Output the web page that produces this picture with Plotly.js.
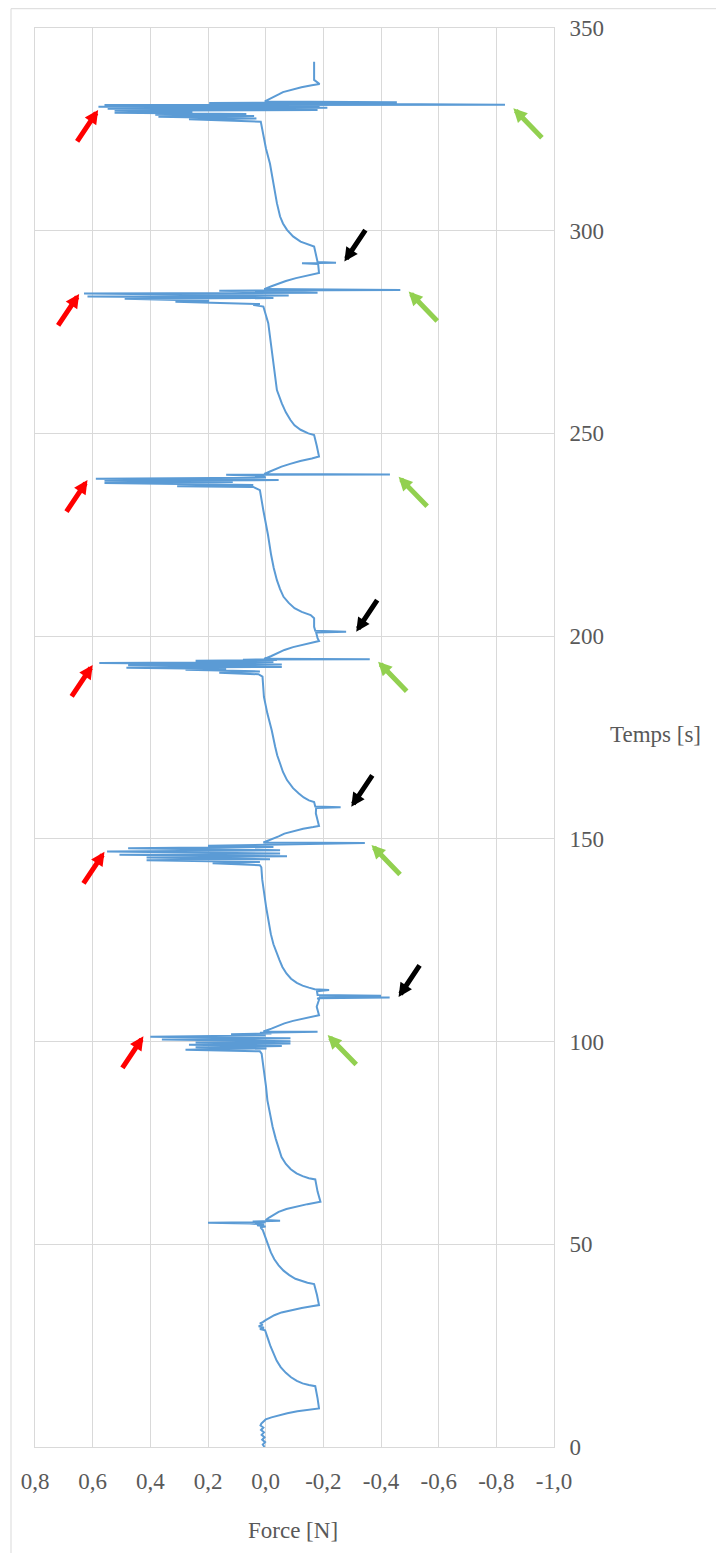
<!DOCTYPE html>
<html>
<head>
<meta charset="utf-8">
<script src="https://cdn.plot.ly/plotly-3.0.1.min.js"></script>
<style>
  html, body { margin: 0; padding: 0; background: #ffffff; }
  #chart { width: 716px; height: 1553px; }
</style>
</head>
<body>
<div id="chart"></div>
<script>
// Time [s] (y) and Force [N] (x) (one line per segment)
const timeS = [
  0.0,0.6,1.2,1.8,2.4,3.0,3.6,4.2,4.8,5.3,5.8,
  6.3,6.8,7.3,7.8,8.3,8.8,9.2,9.5,
  12.0,15.0,
  15.3,15.7,16.3,17.2,18.3,19.7,21.3,23.0,24.8,26.5,28.0,28.8,
  29.1,29.4,29.8,30.2,30.5,30.8,
  31.3,31.9,32.5,33.2,33.8,34.3,34.7,35.0,
  37.5,40.2,
  40.5,40.9,41.5,42.4,43.5,44.8,46.3,48.0,50.0,52.0,53.5,54.2,
  54.4,54.7,54.9,55.1,55.3,55.45,55.6,55.8,56.0,
  56.6,57.3,58.0,58.7,59.3,59.9,60.5,
  63.0,66.0,
  66.3,66.8,67.5,68.5,69.8,71.5,73.5,76.0,79.0,82.0,85.5,89.0,92.0,95.0,97.0,
  97.6,98.0,98.3,98.6,98.9,99.2,99.5,99.8,100.1,100.5,100.8,101.2,101.5,101.8,102.0,102.2,102.4,102.5,
  103.2,103.9,104.5,105.1,105.6,106.1,106.5,
  108.6,110.3,110.7,110.9,111.1,111.3,111.5,112.4,112.7,112.9,
  113.3,113.8,114.5,115.5,116.8,118.4,120.1,122.0,124.0,126.5,129.5,133.0,137.0,140.0,143.0,
  143.5,144.0,144.3,144.7,145.0,145.4,145.7,146.1,146.4,146.9,147.2,147.7,148.0,148.3,148.6,149.0,149.1,
  149.8,150.6,151.3,151.9,152.5,152.9,153.2,
  154.6,156.3,157.6,157.8,158.0,159.1,
  159.5,160.2,161.2,162.5,164.5,166.5,168.6,170.6,172.7,176.8,180.9,185.0,190.0,
  190.6,191.0,191.3,191.7,191.9,192.2,192.4,192.8,193.0,193.4,193.6,193.9,194.1,194.2,194.3,194.4,
  195.1,195.9,196.6,197.3,197.9,198.4,198.8,
  199.5,200.7,200.9,201.1,201.3,202.3,204.4,205.2,
  206.0,206.9,208.2,209.7,211.6,213.8,216.8,220.0,225.0,231.0,236.0,
  236.8,237.0,237.3,237.8,238.0,238.3,238.5,238.8,239.1,239.5,239.8,239.9,240.0,
  240.6,241.2,241.8,242.5,243.2,243.8,244.3,
  247.0,249.6,
  250.0,250.9,252.0,253.3,255.2,257.4,260.7,264.5,268.9,273.0,277.2,281.3,
  281.7,281.9,282.5,282.7,283.2,283.4,283.8,284.0,284.5,284.7,285.2,285.4,285.6,
  286.3,287.0,287.6,288.3,288.9,289.3,289.6,
  291.8,292.0,292.1,292.3,296.1,
  296.6,297.3,298.6,300.2,301.8,303.5,306.8,311.7,316.5,320.3,324.0,326.9,
  327.5,327.7,328.1,328.3,328.6,328.8,329.1,329.3,329.6,329.8,330.1,330.3,330.6,330.8,331.0,331.1,331.5,331.7,331.9,
  332.8,333.6,334.2,334.8,335.4,335.9,336.2,
  337.2,341.7
];
const forceN = [
  0.004,0.01,0.002,0.012,0.004,0.014,0.006,0.016,0.008,0.018,0.015,
  0.008,0.0,-0.02,-0.045,-0.075,-0.11,-0.15,-0.185,
  -0.18,-0.172,
  -0.15,-0.128,-0.108,-0.088,-0.07,-0.052,-0.038,-0.027,-0.017,-0.009,-0.003,0.002,
  0.02,0.006,0.024,0.01,0.02,0.01,
  0.0,-0.015,-0.03,-0.055,-0.09,-0.125,-0.16,-0.185,
  -0.178,-0.168,
  -0.145,-0.125,-0.103,-0.082,-0.062,-0.045,-0.03,-0.018,-0.008,0.002,0.01,0.018,
  0.0,0.03,0.005,0.055,0.2,0.0,0.045,-0.05,0.0,
  -0.012,-0.028,-0.045,-0.072,-0.105,-0.145,-0.19,
  -0.18,-0.172,
  -0.15,-0.128,-0.107,-0.087,-0.07,-0.055,-0.045,-0.035,-0.024,-0.015,-0.006,-0.001,0.005,0.01,0.014,
  0.02,0.278,-0.003,0.243,-0.056,0.266,-0.086,0.243,-0.086,0.36,-0.086,0.40,0.0,0.12,-0.02,0.02,-0.18,0.008,
  -0.02,-0.045,-0.065,-0.095,-0.13,-0.165,-0.185,
  -0.177,-0.185,-0.18,-0.43,-0.185,-0.40,-0.18,-0.178,-0.22,-0.17,
  -0.15,-0.128,-0.108,-0.088,-0.072,-0.058,-0.048,-0.038,-0.027,-0.018,-0.01,-0.002,0.006,0.012,0.015,
  0.02,0.184,0.02,0.413,-0.015,0.413,-0.074,0.507,-0.05,0.55,-0.05,0.477,-0.027,0.2,0.0,-0.344,0.008,
  -0.02,-0.045,-0.065,-0.095,-0.13,-0.165,-0.185,
  -0.18,-0.174,-0.175,-0.26,-0.172,-0.168,
  -0.15,-0.132,-0.115,-0.095,-0.074,-0.06,-0.05,-0.04,-0.033,-0.021,-0.006,0.006,0.011,
  0.025,0.161,0.02,0.278,0.137,0.483,-0.056,0.477,-0.056,0.577,-0.027,0.243,-0.039,0.079,-0.361,0.005,
  -0.02,-0.045,-0.065,-0.095,-0.13,-0.165,-0.185,
  -0.18,-0.174,-0.175,-0.279,-0.172,-0.168,-0.168,-0.156,
  -0.125,-0.1,-0.08,-0.062,-0.05,-0.039,-0.028,-0.019,-0.008,0.008,0.02,
  0.043,0.307,0.043,0.559,0.114,0.559,-0.045,0.589,0.0,0.01,0.137,-0.431,0.005,
  -0.015,-0.033,-0.055,-0.085,-0.12,-0.16,-0.185,
  -0.177,-0.168,
  -0.148,-0.121,-0.1,-0.086,-0.07,-0.056,-0.039,-0.032,-0.025,-0.017,-0.009,0.008,
  0.043,0.02,0.313,0.196,0.489,-0.027,0.618,-0.08,0.63,-0.18,0.161,-0.467,0.005,
  -0.02,-0.045,-0.07,-0.105,-0.14,-0.168,-0.185,
  -0.182,-0.126,-0.244,-0.18,-0.168,
  -0.145,-0.121,-0.095,-0.074,-0.06,-0.05,-0.039,-0.027,-0.015,-0.001,0.008,0.017,
  0.266,0.032,0.372,0.04,0.383,0.067,0.524,0.254,0.524,-0.18,0.548,-0.214,0.58,-0.187,0.559,-0.83,0.196,-0.455,0.003,
  -0.025,-0.045,-0.06,-0.09,-0.124,-0.16,-0.187,
  -0.168,-0.168
];

const xTickVals = [0.8, 0.6, 0.4, 0.2, 0.0, -0.2, -0.4, -0.6, -0.8, -1.0];
const xTickText = ['0,8','0,6','0,4','0,2','0,0','-0,2','-0,4','-0,6','-0,8','-1,0'];
const yTickVals = [0, 50, 100, 150, 200, 250, 300, 350];
const yTickText = ['0','50','100','150','200','250','300','350'];

// arrow markers: [force, time] of the tip
const redTips   = [[0.424,101.3],[0.559,146.8],[0.600,192.9],[0.618,238.5],[0.647,284.4],[0.581,329.8]];
const greenTips = [[-0.215,101.6],[-0.367,148.5],[-0.390,193.7],[-0.461,239.3],[-0.496,285.0],[-0.859,330.2]];
const blackTips = [[-0.461,111.0],[-0.297,157.9],[-0.314,201.1],[-0.273,292.4]];

const gridCol = '#D9D9D9';
const txtCol = '#595959';
const fontFam = '"Liberation Serif", "Times New Roman", serif';

const annotations = [];
function arrow(tip, color, ax, ay) {
  annotations.push({
    x: tip[0], y: tip[1], xref: 'x', yref: 'y',
    ax: ax, ay: ay, axref: 'pixel', ayref: 'pixel',
    showarrow: true, arrowhead: 2, arrowsize: 0.55, arrowwidth: 5,
    arrowcolor: color, text: ''
  });
}
redTips.forEach(t => arrow(t, '#FF0000', -22, 33));
greenTips.forEach(t => arrow(t, '#92D050', 30, 31));
blackTips.forEach(t => arrow(t, '#000000', 22, -33));

annotations.push({
  text: 'Force [N]', xref: 'paper', yref: 'paper',
  x: (293 - 35) / 519, y: (1446.7 - 1530) / 1418.4,
  xanchor: 'center', yanchor: 'middle', showarrow: false,
  font: { family: fontFam, size: 23, color: txtCol }
});
annotations.push({
  text: 'Temps [s]', xref: 'paper', yref: 'paper',
  x: (655 - 35) / 519, y: (1446.7 - 735) / 1418.4,
  xanchor: 'center', yanchor: 'middle', showarrow: false,
  font: { family: fontFam, size: 23, color: txtCol }
});

const trace = {
  x: forceN, y: timeS, type: 'scatter', mode: 'lines',
  line: { color: '#5B9BD5', width: 2 },
  hoverinfo: 'skip'
};

const layout = {
  width: 716, height: 1553,
  margin: { l: 35, r: 162, t: 28, b: 106, pad: 0 },
  paper_bgcolor: '#ffffff', plot_bgcolor: '#ffffff',
  showlegend: false,
  font: { family: fontFam, size: 23, color: txtCol },
  xaxis: {
    range: [0.8, -1.0], autorange: false,
    tickmode: 'array', tickvals: xTickVals, ticktext: xTickText,
    showgrid: true, gridcolor: gridCol, gridwidth: 1,
    zeroline: true, zerolinecolor: gridCol, zerolinewidth: 1,
    showline: true, linecolor: gridCol, linewidth: 1, mirror: true,
    ticks: '', ticklabelstandoff: 13,
    tickfont: { family: fontFam, size: 23, color: txtCol }
  },
  yaxis: {
    range: [0, 350], autorange: false, side: 'right',
    tickmode: 'array', tickvals: yTickVals, ticktext: yTickText,
    showgrid: true, gridcolor: gridCol, gridwidth: 1,
    zeroline: false,
    showline: true, linecolor: gridCol, linewidth: 1, mirror: true,
    ticks: '', ticklabelstandoff: 10,
    tickfont: { family: fontFam, size: 23, color: txtCol }
  },
  shapes: [{
    type: 'rect', xref: 'paper', yref: 'paper',
    x0: (11 - 35) / 519, x1: 1.5, y0: -0.2, y1: (1446.7 - 9) / 1418.4,
    line: { color: gridCol, width: 1 }, fillcolor: 'rgba(0,0,0,0)', layer: 'below'
  }],
  annotations: annotations
};

Plotly.newPlot('chart', [trace], layout, { staticPlot: true, displayModeBar: false });
</script>
</body>
</html>
